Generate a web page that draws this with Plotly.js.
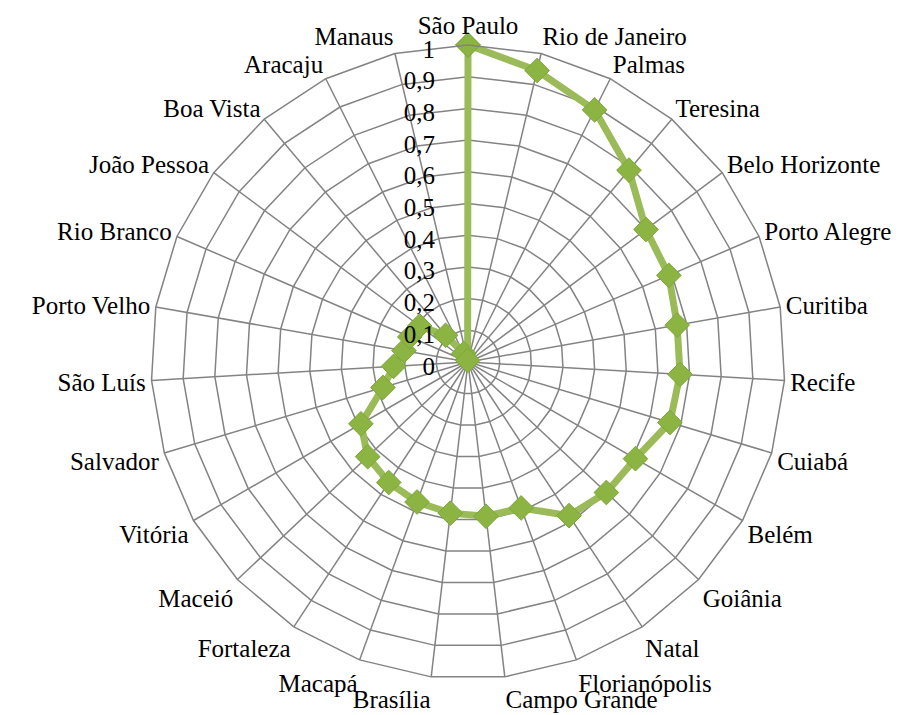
<!DOCTYPE html>
<html>
<head>
<meta charset="utf-8">
<script src="https://cdn.plot.ly/plotly-3.0.1.min.js"></script>
<style>html,body{margin:0;padding:0;background:#fff;}#chart{width:915px;height:715px;}</style>
</head>
<body>
<div id="chart"></div>
<script>
var cities = ["São Paulo","Rio de Janeiro","Palmas","Teresina","Belo Horizonte","Porto Alegre","Curitiba","Recife","Cuiabá","Belém","Goiânia","Natal","Florianópolis","Campo Grande","Brasília","Macapá","Fortaleza","Maceió","Vitória","Salvador","São Luís","Porto Velho","Rio Branco","João Pessoa","Boa Vista","Aracaju","Manaus"];
var values = [1, 0.945, 0.89, 0.79, 0.70, 0.69, 0.67, 0.67, 0.665, 0.61, 0.60, 0.58, 0.49, 0.49, 0.48, 0.47, 0.455, 0.435, 0.39, 0.28, 0.235, 0.205, 0.20, 0.19, 0.11, 0.03, 0.005];
var radialTicks = [0, 0.1, 0.2, 0.3, 0.4, 0.5, 0.6, 0.7, 0.8, 0.9, 1];

var trace = {
  type: 'scatterpolar',
  mode: 'lines+markers',
  r: values.concat([values[0]]),
  theta: cities.concat([cities[0]]),
  line: {color: '#9BBB59', width: 7},
  marker: {symbol: 'diamond', size: 19, color: '#8CB443', line: {color: '#7FA63A', width: 1}},
  hoverinfo: 'none',
  showlegend: false
};

var font = {family: '"Liberation Serif", "Times New Roman", serif', size: 25, color: '#000'};
var layout = {
  width: 915, height: 715,
  margin: {l: 0, r: 0, t: 0, b: 0},
  paper_bgcolor: '#fff',
  separators: ', ',
  font: font,
  polar: {
    domain: {x: [151/915, 785/915], y: [1 - 679/715, 1 - 45/715]},
    bgcolor: '#fff',
    gridshape: 'linear',
    angularaxis: {
      type: 'category',
      categoryarray: cities,
      direction: 'clockwise',
      rotation: 90,
      showgrid: true,
      gridcolor: '#838383',
      gridwidth: 1.5,
      showline: true,
      linecolor: '#838383',
      linewidth: 1.5,
      ticks: '',
      ticklen: 0,
      tickfont: font
    },
    radialaxis: {
      range: [0, 1],
      tickvals: radialTicks,
      angle: 90,
      side: 'counterclockwise',
      showline: false,
      showgrid: true,
      gridcolor: '#838383',
      gridwidth: 1.5,
      ticks: 'outside',
      ticklen: 10,
      tickcolor: 'rgba(0,0,0,0)',
      tickfont: font
    }
  }
};
Plotly.newPlot('chart', [trace], layout, {displayModeBar: false, staticPlot: true});
</script>
</body>
</html>
